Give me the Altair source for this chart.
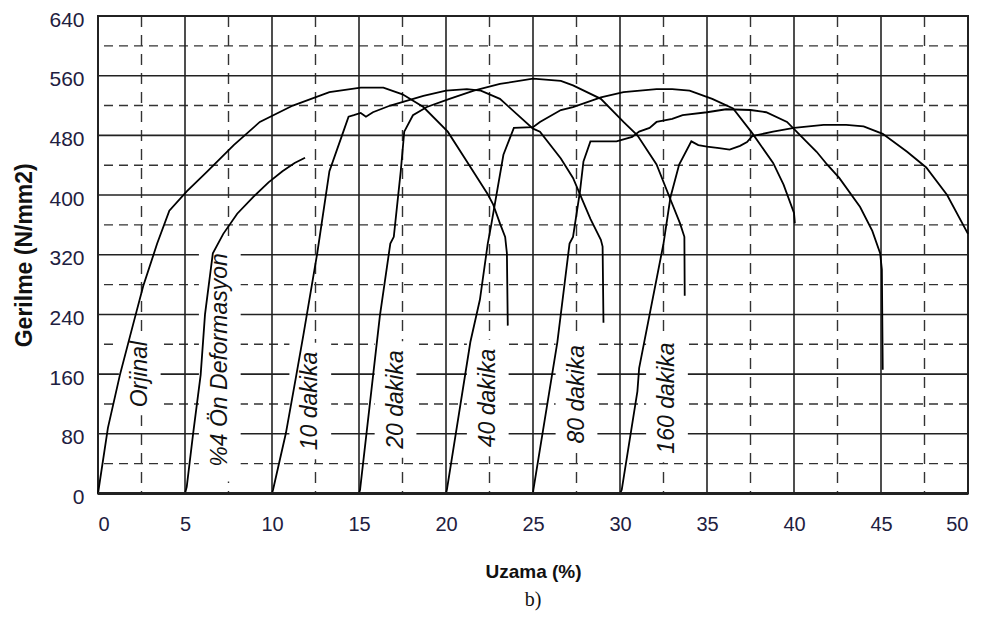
import altair as alt
import pandas as pd

# ---- curve data (Uzama %, Gerilme N/mm2) ----
orjinal_x = [0, 0.57, 1.26, 2.0, 2.6, 3.4, 4.1, 5.1, 6.3, 7.8, 9.3, 11.2, 13.3, 15.1, 16.4, 17.5, 18.7, 20.1, 21.2, 22.4, 22.7, 23.1, 23.4, 23.5, 23.55]
orjinal_y = [0, 88, 159, 225, 278, 335, 379, 405, 432, 467, 498, 520, 538, 544, 544, 535, 518, 485, 445, 401, 388, 362, 344, 322, 225]

on4_x = [5, 5.1, 5.47, 5.9, 6.15, 6.6, 7.2, 8.0, 8.9, 9.8, 10.6, 11.3, 11.9]
on4_y = [0, 9, 81, 159, 240, 322, 348, 375, 397, 417, 432, 443, 450]

d10_x = [10, 10.06, 10.8, 11.4, 11.8, 12.6, 13.3, 14.1, 14.4, 14.7, 15.1, 15.4, 15.8, 16.8, 18.7, 20.0, 21.2, 22.0, 23.1, 25.0, 25.4, 26.6, 27.3, 27.7, 28.3, 28.9, 29.0, 29.05]
d10_y = [0, 5, 81, 159, 212, 322, 432, 485, 505, 507, 510, 505, 511, 520, 533, 540, 542, 540, 529, 489, 485, 449, 423, 401, 368, 340, 331, 229]

d20_x = [15, 15.06, 15.6, 16.2, 16.8, 17.0, 17.4, 17.6, 18.1, 18.9, 20.2, 21.6, 23.1, 25.0, 26.6, 27.3, 28.9, 30.2, 31.0, 32.1, 32.9, 33.45, 33.7, 33.72]
d20_y = [0, 5, 115, 238, 335, 344, 432, 485, 507, 518, 529, 540, 549, 556, 553, 547, 529, 498, 480, 441, 394, 362, 344, 265]

d40_x = [20, 20.05, 21.4, 21.95, 22.4, 22.6, 23.3, 23.9, 25.0, 25.4, 26.6, 27.3, 28.9, 30.2, 32.1, 33.0, 34.0, 35.3, 36.5, 37.6, 38.8, 39.4, 40.0, 40.05]
d40_y = [0, 5, 203, 260, 335, 360, 454, 490, 491, 498, 514, 518, 531, 538, 542, 542, 540, 529, 516, 483, 443, 414, 376, 362]

d80_x = [25, 25.02, 26.4, 27.1, 27.3, 27.7, 27.9, 28.3, 28.9, 29.8, 30.7, 31.1, 31.7, 32.1, 33.0, 33.6, 35.0, 36.1, 37.5, 38.4, 39.6, 40.7, 41.3, 41.9, 42.6, 43.8, 44.5, 44.95, 45.05, 45.1]
d80_y = [0, 5, 203, 335, 344, 405, 445, 472, 472, 472, 478, 485, 490, 498, 502, 507, 511, 515, 514, 511, 498, 472, 458, 441, 423, 384, 352, 322, 300, 166]

d160_x = [30, 30.1, 31.0, 31.1, 32.5, 32.9, 33.4, 34.1, 34.5, 35.0, 35.7, 36.3, 36.9, 37.3, 37.6, 38.8, 40.0, 41.7, 43.0, 44.0, 45.1, 46.5, 47.6, 48.8, 50.0]
d160_y = [0, 5, 137, 168, 335, 397, 441, 472, 467, 465, 463, 461, 466, 471, 479, 485, 490, 494, 494, 492, 482, 458, 437, 400, 348]

series_names = ["Orjinal", "%4 Ön Deformasyon", "10 dakika", "20 dakika", "40 dakika", "80 dakika", "160 dakika"]
series_x = [orjinal_x, on4_x, d10_x, d20_x, d40_x, d80_x, d160_x]
series_y = [orjinal_y, on4_y, d10_y, d20_y, d40_y, d80_y, d160_y]

# ---- curve labels (text, and where it sits in data units) ----
label_text = ["Orjinal", "%4 Ön Deformasyon", "10 dakika", "20 dakika", "40 dakika", "80 dakika", "160 dakika"]
label_x = [2.4, 7.0, 12.2, 17.1, 22.4, 27.5, 32.7]
label_y = [160, 179, 124, 126, 128, 133, 128]
label_half = [55, 163, 78, 78, 78, 78, 86]

# ---- axis ticks / grid ----
x_major = [0, 5, 10, 15, 20, 25, 30, 35, 40, 45, 50]
x_minor = [2.5, 7.5, 12.5, 17.5, 22.5, 27.5, 32.5, 37.5, 42.5, 47.5]
y_major = [0, 80, 160, 240, 320, 400, 480, 560, 640]
y_minor = [40, 120, 200, 280, 360, 440, 520, 600]

rows = []
for name, xs, ys in zip(series_names, series_x, series_y):
    for i, (a, b) in enumerate(zip(xs, ys)):
        rows.append({"series": name, "i": i, "x": a, "y": b})
curves = pd.DataFrame(rows)

labels = pd.DataFrame({"text": label_text, "x": label_x, "y": label_y, "h": label_half})
labels["x1"] = labels["x"] - 1.2
labels["x2"] = labels["x"] + 1.2
labels["y1"] = labels["y"] - labels["h"]
labels["y2"] = labels["y"] + labels["h"]

FONT = "Liberation Sans"
xscale = alt.Scale(domain=[0, 50], nice=False, zero=False)
yscale = alt.Scale(domain=[0, 640], nice=False)
xaxis = alt.Axis(title="Uzama (%)", values=x_major, grid=False, ticks=False, domain=False,
                 labelFont=FONT, labelFontSize=20, labelColor="#1e2040", labelPadding=21,
                 titleFont=FONT, titleFontSize=19, titleFontWeight="bold", titleColor="#111",
                 titlePadding=28)
yaxis = alt.Axis(title="Gerilme (N/mm2)", values=y_major, grid=False, ticks=False, domain=False,
                 labelFont=FONT, labelFontSize=21, labelColor="#1e2040", labelPadding=14,
                 labelOffset=4,
                 titleFont=FONT, titleFontSize=23, titleFontWeight="bold", titleColor="#111",
                 titlePadding=12)

def X(f):
    return alt.X(f, type="quantitative", scale=xscale, axis=xaxis)

def Y(f):
    return alt.Y(f, type="quantitative", scale=yscale, axis=yaxis)

vmin = alt.Chart(pd.DataFrame({"v": x_minor})).mark_rule(
    color="#333", strokeWidth=1.4, strokeDash=[11, 8]).encode(x=X("v"))
hmin = alt.Chart(pd.DataFrame({"v": y_minor})).mark_rule(
    color="#333", strokeWidth=1.4, strokeDash=[9, 6]).encode(y=Y("v"))
vmaj = alt.Chart(pd.DataFrame({"v": x_major})).mark_rule(
    color="#222", strokeWidth=1.6).encode(x=X("v"))
hmaj = alt.Chart(pd.DataFrame({"v": y_major})).mark_rule(
    color="#222", strokeWidth=1.6).encode(y=Y("v"))

boxes = alt.Chart(labels).mark_rect(color="white").encode(
    x=X("x1"), x2="x2", y=Y("y1"), y2="y2")

lines = alt.Chart(curves).mark_line(color="black", strokeWidth=1.8).encode(
    x=X("x"), y=Y("y"), detail="series:N", order="i:Q")

texts = alt.Chart(labels).mark_text(
    angle=270, font=FONT, fontSize=23, fontStyle="italic", color="#111").encode(
    x=X("x"), y=Y("y"), text="text:N")

base = alt.Chart(pd.DataFrame({"v": [0]})).mark_rule(color="#222", strokeWidth=3).encode(y=Y("v"))

chart = alt.layer(vmin, hmin, vmaj, hmaj, boxes, lines, texts, base).properties(
    width=870, height=477.5,
    autosize=alt.AutoSizeParams(type="none"),
    padding={"left": 90, "top": 8, "right": 8, "bottom": 117},
    title=alt.TitleParams(text="b)", orient="bottom", font="Liberation Serif", fontSize=20,
                          fontWeight="normal", color="#111", offset=8),
).configure_view(stroke="#222", strokeWidth=2)

chart.save("out.html", embed_options={"renderer": "svg", "actions": False})
